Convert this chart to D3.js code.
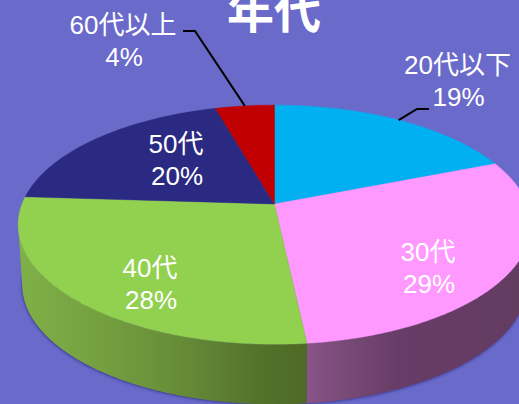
<!DOCTYPE html>
<html><head><meta charset="utf-8">
<script src="https://cdn.jsdelivr.net/npm/d3@7"></script>
<style>html,body{margin:0;padding:0;background:#6a6acb;overflow:hidden}svg{display:block}
text{font-family:"Liberation Sans","Noto Sans CJK JP",sans-serif;fill:#fff;text-anchor:middle}</style>
</head><body><svg width="519" height="404"></svg>
<script>
const categories = ["20代以下","30代","40代","50代","60代以上"];
const values = [19, 29.3, 27.7, 19.6, 4.4];
const colors = ["#00b0f0","#ff99ff","#92d050","#2b2a82","#c00000"];
const title = "年代";

const W = 519, H = 404;
const svg = d3.select("svg");
const defs = svg.append("defs");

// perspective projection of the pie's disc
const pivot = {x:274.5, y:204}, A = 252.5, B = 116, k = 0.173, depth = 60, shrink = 0.984;
const project = (t, floor) => {
  const u = Math.sin(t), v = -Math.cos(t), w = 1 - k*v;
  return [pivot.x + (floor ? shrink : 1)*A*u/w, pivot.y + B*v/w + (floor ? depth : 0)];
};
const arcPts = (a0, a1, floor) => {
  const n = Math.max(2, Math.ceil(Math.abs(a1-a0)/0.01));
  return d3.range(n+1).map(i => project(a0 + (a1-a0)*i/n, floor));
};
const line = d3.line();
const pie = d3.pie().sort(null)(values);
const total = d3.sum(values);
const pct = d3.format(".0%");

// blurred shadow under the wall
defs.append("filter").attr("id","blur").attr("x","-10%").attr("y","-10%").attr("width","120%").attr("height","120%")
  .append("feGaussianBlur").attr("stdDeviation",1.6);
const wallL = Math.acos(-k), wallR = 2*Math.PI - wallL;
svg.append("path").attr("d", line(arcPts(wallL-0.1, wallR+0.1, true).map(p=>[p[0]-0.5,p[1]+1]))+"Z")
  .attr("fill","#2f2f80").attr("opacity",0.75).attr("filter","url(#blur)");

// walls with horizontal shading
const grad = (id, stops) => {
  const g = defs.append("linearGradient").attr("id",id).attr("gradientUnits","userSpaceOnUse")
    .attr("x1",0).attr("x2",W).attr("y1",0).attr("y2",0);
  stops.forEach(s => g.append("stop").attr("offset",s[0]/W).attr("stop-color",s[1]));
};
grad("wall1",[[306,"#8a5488"],[345,"#794a77"],[400,"#673c66"],[519,"#643c62"]]);
grad("wall2",[[18,"#80b047"],[100,"#75a040"],[180,"#668c38"],[260,"#53722b"],[306,"#4e6a26"]]);
const wallFor = {1:"url(#wall1)", 2:"url(#wall2)"};
pie.forEach((d,i) => {
  const a0 = Math.max(d.startAngle, wallL), a1 = Math.min(d.endAngle, wallR);
  if (a1 <= a0) return;
  const pts = arcPts(a0,a1,false).concat(arcPts(a0,a1,true).reverse());
  svg.append("path").attr("d", line(pts)+"Z").attr("fill", wallFor[i] || colors[i]);
});

// top surface
pie.forEach((d,i) => {
  const pts = [[pivot.x,pivot.y]].concat(arcPts(d.startAngle,d.endAngle,false));
  svg.append("path").attr("d", line(pts)+"Z").attr("fill",colors[i]).attr("stroke",colors[i]).attr("stroke-width",0.4);
});

// leader lines
const leaderEnds = {0:[[417,109],[429,109]], 4:[[195,31],[183,31]]};
Object.keys(leaderEnds).forEach(i => {
  const d = pie[i], p = project((d.startAngle+d.endAngle)/2,false);
  svg.append("path").attr("d", line([p].concat(leaderEnds[i]))).attr("fill","none").attr("stroke","#000").attr("stroke-width",2);
});

// labels
const labelAt = [[457.5,74],[428,261],[150,277],[176,153],[123,34]];
categories.forEach((c,i) => {
  const t = svg.append("text").attr("font-size",26).attr("x",labelAt[i][0]).attr("y",labelAt[i][1]);
  t.append("tspan").attr("x",labelAt[i][0]).text(c);
  t.append("tspan").attr("x",labelAt[i][0]+1).attr("dy",32).text(pct(values[i]/total));
});
svg.append("text").attr("x",274).attr("y",28).attr("font-size",47).attr("font-weight",700)
  .style("font-family",'"Noto Sans CJK JP",sans-serif').text(title);
</script></body></html>
